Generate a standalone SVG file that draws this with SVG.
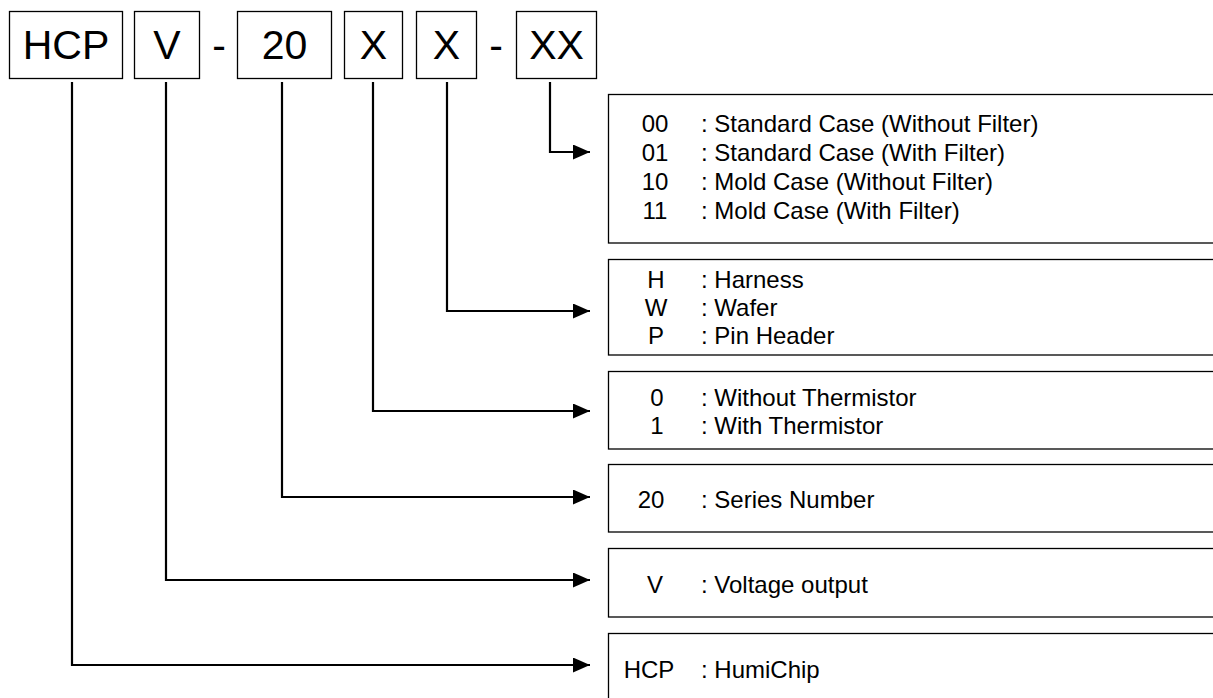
<svg xmlns="http://www.w3.org/2000/svg" width="1213" height="698" viewBox="0 0 1213 698">
  <style>
    .bg { fill: #ffffff; }
    .box { fill: #ffffff; stroke: #000000; stroke-width: 1.3; }
    .big { font-family: "Liberation Sans", Arial, sans-serif; font-size: 41px; fill: #000000; text-anchor: middle; }
    .lbl { font-family: "Liberation Sans", Arial, sans-serif; font-size: 24px; fill: #000000; }
    .code { text-anchor: middle; }
    .conn { fill: none; stroke: #000000; stroke-width: 2.2; }
  </style>
  <defs>
    <marker id="arrow" markerUnits="userSpaceOnUse" viewBox="0 0 17 15" refX="17" refY="7.5" markerWidth="17" markerHeight="15" orient="auto">
      <path d="M0,0 L17,7.5 L0,15 Z" fill="#000000"/>
    </marker>
  </defs>
  <rect class="bg" x="0" y="0" width="1213" height="698"/>

  <g id="code-parts">
    <g id="part-hcp"><rect class="box" x="9.5" y="11.5" width="113" height="67"/><text class="big" x="66" y="59">HCP</text></g>
    <g id="part-v"><rect class="box" x="134.5" y="11.5" width="65" height="67"/><text class="big" x="167" y="59">V</text></g>
    <g id="dash1"><text class="big" x="219" y="59">-</text></g>
    <g id="part-20"><rect class="box" x="237.5" y="11.5" width="94" height="67"/><text class="big" x="284.5" y="59">20</text></g>
    <g id="part-x1"><rect class="box" x="344.5" y="11.5" width="58" height="67"/><text class="big" x="373.5" y="59">X</text></g>
    <g id="part-x2"><rect class="box" x="416.5" y="11.5" width="60" height="67"/><text class="big" x="446.5" y="59">X</text></g>
    <g id="dash2"><text class="big" x="496" y="59">-</text></g>
    <g id="part-xx"><rect class="box" x="516.5" y="11.5" width="80" height="67"/><text class="big" x="556.5" y="59">XX</text></g>
  </g>

  <g id="connectors">
    <polyline class="conn" points="550,82 550,152 590,152" marker-end="url(#arrow)"/>
    <polyline class="conn" points="447,82 447,311 590,311" marker-end="url(#arrow)"/>
    <polyline class="conn" points="373,82 373,411 590,411" marker-end="url(#arrow)"/>
    <polyline class="conn" points="282,82 282,497 590,497" marker-end="url(#arrow)"/>
    <polyline class="conn" points="166,82 166,580 590,580" marker-end="url(#arrow)"/>
    <polyline class="conn" points="72,82 72,665 590,665" marker-end="url(#arrow)"/>
  </g>

  <g id="desc-case">
    <rect class="box" x="608.5" y="94.5" width="620" height="148.5"/>
    <text class="lbl code" x="655" y="132">00</text><text class="lbl" x="701" y="132">: Standard Case (Without Filter)</text>
    <text class="lbl code" x="655" y="161">01</text><text class="lbl" x="701" y="161">: Standard Case (With Filter)</text>
    <text class="lbl code" x="655" y="190">10</text><text class="lbl" x="701" y="190">: Mold Case (Without Filter)</text>
    <text class="lbl code" x="655" y="219">11</text><text class="lbl" x="701" y="219">: Mold Case (With Filter)</text>
  </g>
  <g id="desc-connector">
    <rect class="box" x="608.5" y="259.5" width="620" height="95.5"/>
    <text class="lbl code" x="656" y="288">H</text><text class="lbl" x="701" y="288">: Harness</text>
    <text class="lbl code" x="656" y="316">W</text><text class="lbl" x="701" y="316">: Wafer</text>
    <text class="lbl code" x="656" y="344">P</text><text class="lbl" x="701" y="344">: Pin Header</text>
  </g>
  <g id="desc-thermistor">
    <rect class="box" x="608.5" y="371.5" width="620" height="77.5"/>
    <text class="lbl code" x="657" y="406">0</text><text class="lbl" x="701" y="406">: Without Thermistor</text>
    <text class="lbl code" x="657" y="434">1</text><text class="lbl" x="701" y="434">: With Thermistor</text>
  </g>
  <g id="desc-series">
    <rect class="box" x="608.5" y="464.5" width="620" height="67.5"/>
    <text class="lbl code" x="651" y="508">20</text><text class="lbl" x="701" y="508">: Series Number</text>
  </g>
  <g id="desc-output">
    <rect class="box" x="608.5" y="548.5" width="620" height="68.5"/>
    <text class="lbl code" x="655" y="593">V</text><text class="lbl" x="701" y="593">: Voltage output</text>
  </g>
  <g id="desc-chip">
    <rect class="box" x="608.5" y="633.5" width="620" height="90"/>
    <text class="lbl code" x="649" y="678">HCP</text><text class="lbl" x="701" y="678">: HumiChip</text>
  </g>
</svg>
